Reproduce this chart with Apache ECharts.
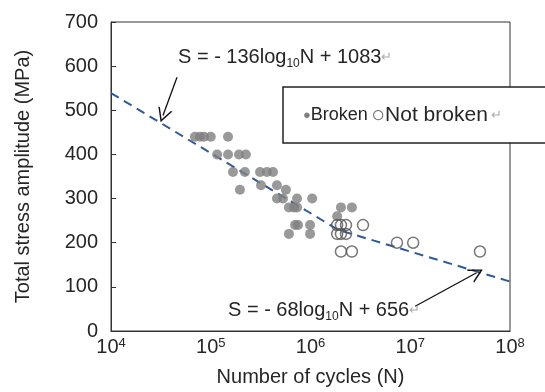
<!DOCTYPE html>
<html>
<head>
<meta charset="utf-8">
<script src="https://cdn.jsdelivr.net/npm/echarts@6/dist/echarts.min.js"></script>
<style>
html,body{margin:0;padding:0;background:#fff}
#chart{width:545px;height:392px}
</style>
</head>
<body>
<div id="chart"></div>
<script>
// broken specimens (cycles N, stress amplitude MPa)
const brokenCycles = [6.95e4, 7.8e4, 8.55e4, 1.0e5, 1.49e5,
                      1.16e5, 1.49e5, 1.92e5, 2.25e5,
                      1.67e5, 2.2e5, 3.12e5, 3.66e5, 4.21e5,
                      3.19e5, 4.61e5, 1.96e5, 5.67e5,
                      4.61e5, 5.3e5, 7.33e5, 1.04e6,
                      6.08e5, 6.84e5, 7.33e5, 2.02e6, 2.6e6,
                      1.85e6,
                      7.0e5, 7.5e5, 9.9e5,
                      6.08e5, 9.9e5];
const brokenStress = [440, 440, 440, 440, 440,
                      400, 400, 400, 400,
                      360, 360, 360, 360, 360,
                      330, 330, 320, 320,
                      300, 300, 300, 300,
                      280, 280, 280, 280, 280,
                      260,
                      240, 240, 240,
                      220, 220];
// run-outs
const runoutCycles = [1.85e6, 2.02e6, 2.27e6, 3.36e6, 1.85e6, 2.02e6, 2.27e6, 2.02e6, 2.6e6, 7.36e6, 1.07e7, 5.0e7];
const runoutStress = [240, 240, 240, 240, 220, 220, 220, 180, 180, 200, 200, 180];
// bilinear fit S-N curve
const fitCycles = [1e4, 1.9e6, 1e8];
const fitStress = [539, 229, 112];
// annotation arrows [from, to]
const arrow1 = [[4.59e4, 575], [3.32e4, 488]];
const arrow2 = [[1.12e7, 56], [4.63e7, 132]];
const yTicks = [0, 100, 200, 300, 400, 500, 600, 700];

const FONT = 'Liberation Sans, Arial, sans-serif';
const TXT = '#262626';
const zip = (a, b) => a.map((v, i) => [v, b[i]]);
const chevron = 'path://M0,12 L6,0 L12,12 L10.7,12 L6,2.6 L1.3,12 Z';

const chart = echarts.init(document.getElementById('chart'));
chart.setOption({
    animation: false,
    grid: {left: 111, right: 35, top: 22, bottom: 57, show: true, borderColor: '#333', borderWidth: 1},
    xAxis: {
        type: 'log', logBase: 10, min: 1e4, max: 1e8,
        name: 'Number of cycles (N)', nameLocation: 'middle', nameGap: 36,
        nameTextStyle: {fontSize: 20, fontFamily: FONT, color: TXT},
        axisLine: {lineStyle: {color: '#333'}},
        axisTick: {show: false},
        minorTick: {show: false},
        splitLine: {show: false},
        axisLabel: {
            margin: 6,
            formatter: v => '{b|10}{s|' + Math.round(Math.log10(v)) + '}',
            rich: {
                b: {fontSize: 20, fontFamily: FONT, color: TXT},
                s: {fontSize: 13, fontFamily: FONT, color: TXT, verticalAlign: 'top'}
            }
        }
    },
    yAxis: {
        type: 'value', min: yTicks[0], max: yTicks[yTicks.length - 1], interval: 100,
        name: 'Total stress amplitude (MPa)', nameLocation: 'middle', nameGap: 78,
        nameTextStyle: {fontSize: 20, fontFamily: FONT, color: TXT},
        axisLine: {show: true, lineStyle: {color: '#333'}},
        axisTick: {show: true, inside: true, length: 5, lineStyle: {color: '#333'}},
        splitLine: {show: false},
        axisLabel: {fontSize: 20, fontFamily: FONT, color: TXT, margin: 13}
    },
    series: [
        {
            type: 'line', name: 'fit', data: zip(fitCycles, fitStress),
            symbol: 'none', z: 1,
            lineStyle: {color: '#2f5a97', width: 2, type: [9, 6]},
            markLine: {
                silent: true,
                symbol: ['none', chevron], symbolSize: [15, 14],
                lineStyle: {color: '#111', width: 1.3, type: 'solid'},
                label: {show: false},
                data: [
                    [{coord: arrow1[0]}, {coord: arrow1[1]}],
                    [{coord: arrow2[0]}, {coord: arrow2[1]}]
                ]
            }
        },
        {
            type: 'scatter', name: 'Broken', data: zip(brokenCycles, brokenStress),
            symbol: 'circle', symbolSize: 10, z: 3,
            itemStyle: {color: '#808080'}
        },
        {
            type: 'scatter', name: 'Not broken', data: zip(runoutCycles, runoutStress),
            symbol: 'circle', symbolSize: 11, z: 4,
            itemStyle: {color: 'rgba(255,255,255,0)', borderColor: '#555', borderWidth: 1.5}
        }
    ],
    graphic: [
        {
            type: 'text', left: 178, top: 47, z: 10,
            style: {
                text: '{t|S = - 136log}{sub|10}{t|N + 1083}{r|↵}',
                rich: {
                    t: {fontSize: 20, fontFamily: FONT, fill: TXT, lineHeight: 26},
                    sub: {fontSize: 12, fontFamily: FONT, fill: TXT, verticalAlign: 'bottom', lineHeight: 26},
                    r: {fontSize: 13, fontFamily: FONT, fill: '#aaa', lineHeight: 26}
                }
            }
        },
        {
            type: 'text', left: 228, top: 300, z: 10,
            style: {
                text: '{t|S = - 68log}{sub|10}{t|N + 656}{r|↵}',
                rich: {
                    t: {fontSize: 20, fontFamily: FONT, fill: TXT, lineHeight: 26},
                    sub: {fontSize: 12, fontFamily: FONT, fill: TXT, verticalAlign: 'bottom', lineHeight: 26},
                    r: {fontSize: 13, fontFamily: FONT, fill: '#aaa', lineHeight: 26}
                }
            }
        },
        {
            type: 'rect', z: 20,
            shape: {x: 283, y: 87, width: 300, height: 56},
            style: {fill: '#fff', stroke: '#222', lineWidth: 1.5}
        },
        {
            type: 'text', left: 303, top: 104, z: 21,
            style: {
                text: '{d|●}{a|Broken} {o|○}{b|Not broken} {r|↵}',
                rich: {
                    d: {fontSize: 13, fontFamily: FONT, fill: '#808080', lineHeight: 28},
                    a: {fontSize: 18, fontFamily: FONT, fill: TXT, lineHeight: 28},
                    o: {fontSize: 23, fontFamily: FONT, fill: '#666', lineHeight: 28},
                    b: {fontSize: 21, fontFamily: FONT, fill: TXT, lineHeight: 28},
                    r: {fontSize: 13, fontFamily: FONT, fill: '#aaa', lineHeight: 28}
                }
            }
        }
    ]
});
</script>
</body>
</html>
